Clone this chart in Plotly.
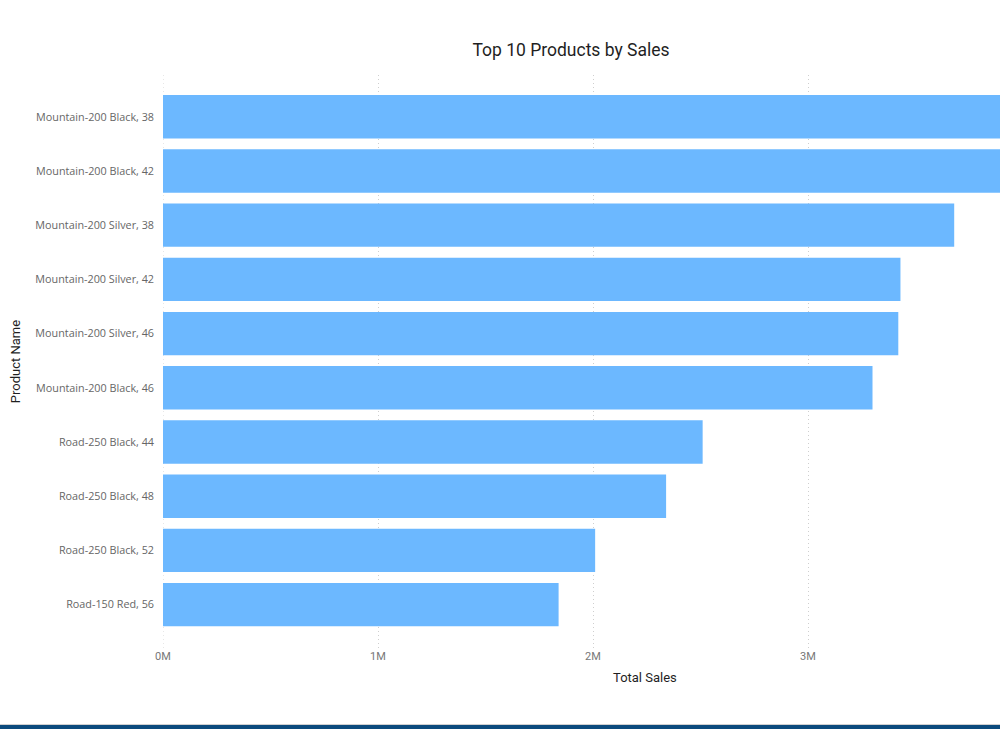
import plotly.graph_objects as go

products = [
    "Mountain-200 Black, 38",
    "Mountain-200 Black, 42",
    "Mountain-200 Silver, 38",
    "Mountain-200 Silver, 42",
    "Mountain-200 Silver, 46",
    "Mountain-200 Black, 46",
    "Road-250 Black, 44",
    "Road-250 Black, 48",
    "Road-250 Black, 52",
    "Road-150 Red, 56",
]
# total sales in millions
sales_m = [4.40, 4.10, 3.68, 3.43, 3.42, 3.30, 2.51, 2.34, 2.01, 1.84]

x_ticks = [0, 1, 2, 3]
x_ticktext = ["0M", "1M", "2M", "3M"]

title_font = "Roboto, Noto Sans, sans-serif"

fig = go.Figure(
    go.Bar(
        x=sales_m,
        y=products,
        orientation="h",
        marker=dict(color="#6CB8FF", line=dict(width=0)),
        hovertemplate="%{y}: %{x:.2f}M<extra></extra>",
    )
)

fig.update_layout(
    width=1000,
    height=750,
    paper_bgcolor="white",
    plot_bgcolor="white",
    margin=dict(l=163, r=0, t=75, b=102),
    bargap=0.2,
    showlegend=False,
    title=dict(
        text="Top 10 Products by Sales",
        x=0.571,
        xanchor="center",
        y=0.933,
        yanchor="middle",
        font=dict(family=title_font, size=17.5, color="#1f1f1f"),
    ),
    font=dict(family="Noto Sans, Open Sans, sans-serif"),
)

fig.update_xaxes(
    range=[0, 3.893],
    tickvals=x_ticks,
    ticktext=x_ticktext,
    showgrid=True,
    gridcolor="#cfcfcf",
    griddash="1px,3px",
    gridwidth=1,
    zeroline=False,
    showline=False,
    ticks="",
    tickfont=dict(size=11, color="#777777", family=title_font),
    fixedrange=True,
)

fig.update_yaxes(
    categoryorder="array",
    categoryarray=products,
    autorange=False,
    range=[9.8, -0.77],
    showgrid=False,
    zeroline=False,
    showline=False,
    ticks="",
    ticklabelstandoff=8,
    tickfont=dict(size=10.8, color="#666666", family="Open Sans, Noto Sans, sans-serif"),
    title=dict(text="Product Name", standoff=11,
               font=dict(size=13, color="#1f1f1f", family=title_font)),
)

# x axis title, positioned like the reference (off-centre)
fig.add_annotation(
    text="Total Sales", xref="paper", yref="paper",
    x=(645 - 163) / 837, y=-(677 - 648) / 573,
    xanchor="center", yanchor="middle", showarrow=False,
    font=dict(size=13, color="#1f1f1f", family=title_font),
)

# gridline at zero (edge of plot area)
fig.add_shape(type="line", xref="x", yref="paper", x0=0, x1=0, y0=0, y1=1,
              line=dict(color="#cfcfcf", width=1, dash="1px,3px"), layer="below")

# bottom accent band
fig.add_shape(type="rect", xref="paper", yref="paper",
              x0=-0.2, x1=1.0, y0=(648 - 725) / 573, y1=(648 - 724) / 573,
              fillcolor="#d0d0d0", line=dict(width=0), layer="above")
fig.add_shape(type="rect", xref="paper", yref="paper",
              x0=-0.2, x1=1.0, y0=(648 - 729) / 573, y1=(648 - 725) / 573,
              fillcolor="#0B4A7D", line=dict(width=0), layer="above")

fig.write_html("out.html")
